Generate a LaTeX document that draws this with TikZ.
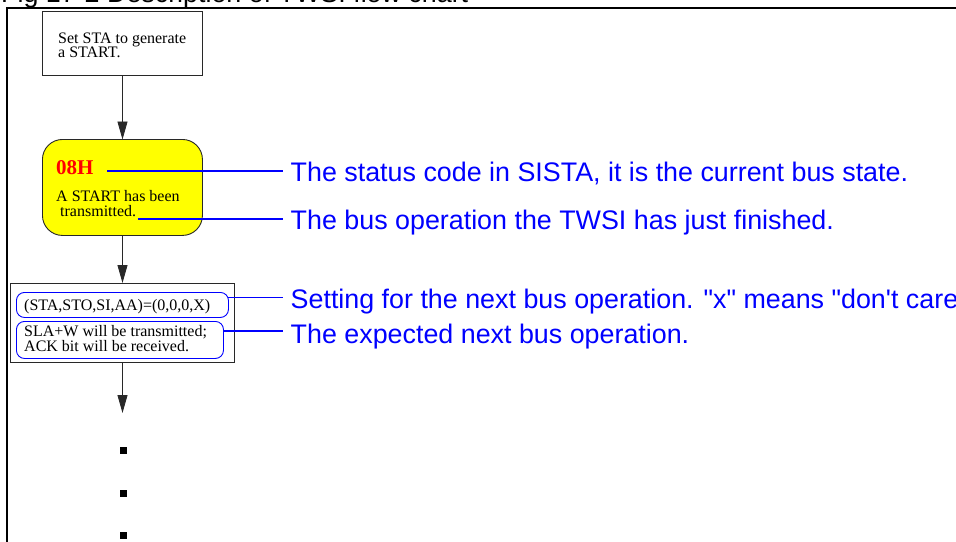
\documentclass[tikz,border=0pt]{standalone}
\usepackage{fontspec}
\setmainfont{Liberation Serif}
\newfontfamily\arialf{Liberation Sans}
\usetikzlibrary{arrows.meta}
\definecolor{linegray}{RGB}{40,40,40}
\definecolor{noteblue}{RGB}{0,0,255}
\definecolor{boxyellow}{RGB}{255,255,0}
\begin{document}
\begin{tikzpicture}[x=1pt,y=-1pt,
  serif/.style={font=\fontsize{16}{16}\selectfont, inner sep=0pt, anchor=base west},
  note/.style={font=\arialf\fontsize{26.85}{26.85}\selectfont, text=noteblue, inner sep=0pt, anchor=base west},
  plainbox/.style={draw=linegray, line width=0.9pt, inner sep=0pt, anchor=north west},
  leader/.style={draw=noteblue, line width=1.1pt},
  flow/.style={draw=linegray, line width=0.9pt, -{Triangle[length=18pt,width=10pt]}},
  dotmark/.style={fill=black, inner sep=0pt, minimum size=7pt}]
\useasboundingbox (0,0) rectangle (956,541);
% title (cut off by the page top)
\node[font=\arialf\fontsize{26.85}{26.85}\selectfont, inner sep=0pt, anchor=base west] (title) at (1,2.5) {Fig 17-2 Description of TWSI flow chart};
% frame
\coordinate (fbl) at (6.8,545);
\coordinate (ftl) at (6.8,7.6);
\coordinate (ftr) at (960,7.6);
\draw[line width=2pt] (fbl) -- (ftl) -- (ftr);
% first box
\node[plainbox, fill=white, minimum width=160pt, minimum height=64pt] (b1) at (42,11) {};
\node[serif] (b1t1) at (58,43) {Set STA to generate};
\node[serif] (b1t2) at (58,57.5) {a START.};
% yellow state
\node[plainbox, fill=boxyellow, rounded corners=20pt, minimum width=160pt, minimum height=96pt] (y1) at (42,139) {};
\node[serif, font=\bfseries\fontsize{21}{21}\selectfont, text=red] (code) at (56,174) {08H};
\node[serif] (y1t1) at (56,201.5) {A START has been};
\node[serif] (y1t2) at (60,216) {transmitted.};
% second box
\node[plainbox, minimum width=224pt, minimum height=79pt] (b2) at (10,283) {};
\node[draw=noteblue, line width=0.9pt, rounded corners=8pt, inner sep=0pt, anchor=north west, minimum width=212pt, minimum height=25pt] (r1) at (16,292) {};
\node[draw=noteblue, line width=0.9pt, rounded corners=8pt, inner sep=0pt, anchor=north west, minimum width=207pt, minimum height=37pt] (r2) at (16,321) {};
\node[serif] (r1t) at (24,310.5) {(STA,STO,SI,AA)=(0,0,0,X)};
\node[serif] (r2t1) at (24,336) {SLA+W will be transmitted;};
\node[serif] (r2t2) at (24,351.3) {ACK bit will be received.};
% flow connectors
\coordinate (b1out) at (122.5,75);
\coordinate (y1in) at (122.5,139.5);
\coordinate (y1out) at (122.5,235);
\coordinate (b2in) at (122.5,283);
\coordinate (b2out) at (122.5,362);
\coordinate (flowend) at (122.5,413);
\draw[flow] (b1out) -- (y1in);
\draw[flow] (y1out) -- (b2in);
\draw[flow] (b2out) -- (flowend);
% continuation dots
\node[dotmark] (d1) at (123,450) {};
\node[dotmark] (d2) at (123,493) {};
\node[dotmark] (d3) at (123,535) {};
% notes
\node[note] (n1) at (290.5,181.5) {The status code in SISTA, it is the current bus state.};
\node[note] (n2) at (290.5,229.5) {The bus operation the TWSI has just finished.};
\node[note] (n3) at (290.5,308) {Setting for the next bus operation. "x" means "don't care"};
\node[note] (n4) at (290.5,343) {The expected next bus operation.};
% leaders
\coordinate (l1a) at (107,171);  \coordinate (l1b) at (282.5,171);
\coordinate (l2a) at (138,219);  \coordinate (l2b) at (282.5,219);
\coordinate (l3a) at (228,297.5);\coordinate (l3b) at (282.5,297.5);
\coordinate (l4a) at (223,331);  \coordinate (l4b) at (282.5,331);
\draw[leader] (l1a) -- (l1b);
\draw[leader] (l2a) -- (l2b);
\draw[leader] (l3a) -- (l3b);
\draw[leader] (l4a) -- (l4b);
\end{tikzpicture}
\end{document}
